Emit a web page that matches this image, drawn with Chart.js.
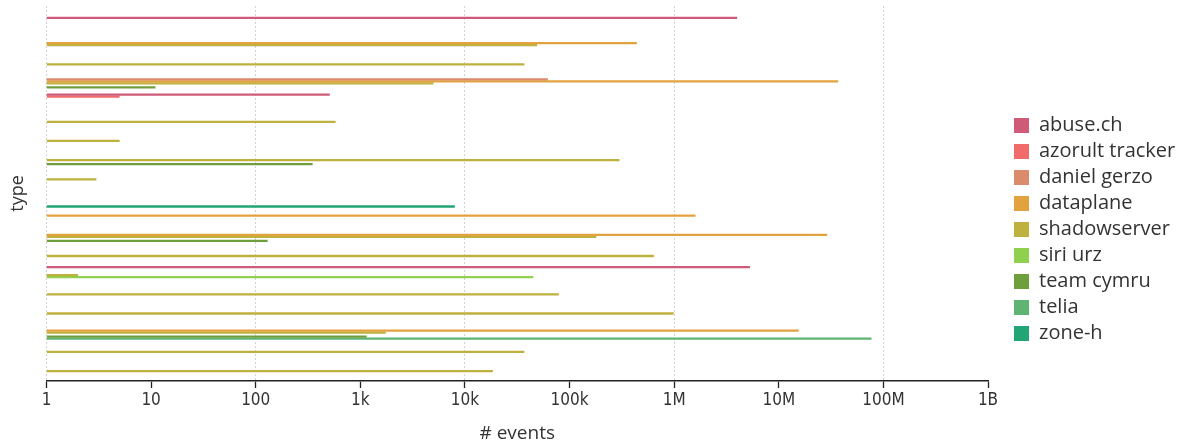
<!DOCTYPE html>
<html>
<head>
<meta charset="utf-8">
<script src="https://cdn.jsdelivr.net/npm/chart.js@4"></script>
<style>
  html, body { margin: 0; padding: 0; background: #fff; }
  #wrap { width: 1180px; height: 445px; position: relative; }
</style>
</head>
<body>
<div id="wrap"><canvas id="c"></canvas></div>
<script>
// ---- data ----
const categories = ['type 01','type 02','type 03','type 04','type 05','type 06','type 07','type 08','type 09','type 10',
                    'type 11','type 12','type 13','type 14','type 15','type 16','type 17','type 18','type 19'];
const sources = ['abuse.ch','azorult tracker','daniel gerzo','dataplane','shadowserver','siri urz','team cymru','telia','zone-h'];

const abuseCh        = [4.0e6, null, null, null, 510, null, null, null, null, null, null, null, null, 5.3e6, null, null, null, null, null];
const azorultTracker = [null, null, null, null, 5, null, null, null, null, null, null, null, null, null, null, null, null, null, null];
const danielGerzo    = [null, null, null, 62000, null, null, null, null, null, null, null, null, null, null, null, null, null, null, null];
const dataplane      = [null, 440000, null, 3.7e7, null, null, null, null, null, null, 1.6e6, 2.9e7, null, null, null, null, 1.55e7, null, null];
const shadowserver   = [null, 49000, 37000, 5000, null, 580, 5, 300000, 3, null, null, 180000, 640000, 2, 79000, 990000, 1750, 37000, 18500];
const siriUrz        = [null, null, null, null, null, null, null, null, null, null, null, null, null, 45000, null, null, null, null, null];
const teamCymru      = [null, null, null, 11, null, null, null, 350, null, null, null, 130, null, null, null, null, 1150, null, null];
const telia          = [null, null, null, null, null, null, null, null, null, null, null, null, null, null, null, null, 7.7e7, null, null];
const zoneH          = [null, null, null, null, null, null, null, null, null, 8000, null, null, null, null, null, null, null, null, null];

const seriesValues = [abuseCh, azorultTracker, danielGerzo, dataplane, shadowserver, siriUrz, teamCymru, telia, zoneH];

const tickValues = [1, 10, 100, 1e3, 1e4, 1e5, 1e6, 1e7, 1e8, 1e9];
const tickLabels = ['1', '10', '100', '1k', '10k', '100k', '1M', '10M', '100M', '1B'];

// ---- styles ----
const colors = ['#cf5b78', '#f26b6b', '#d98b6b', '#e2a33e', '#bfb13e', '#8fd14f', '#6f9f3c', '#5fb474', '#22a574'];

const datasets = sources.map((name, k) => ({
  label: name,
  data: seriesValues[k].map((v, i) => ({ x: v, y: i })).filter(p => p.x !== null),
  backgroundColor: colors[k],
  borderWidth: 0,
  categoryPercentage: 0.94,
  barPercentage: 1.15
}));

const legendPlace = {
  id: 'legendPlace',
  beforeInit(chart) {
    const l = chart.legend;
    const fit = l.fit;
    l.fit = function () { fit.call(this); this.width = 192; };
  },
  afterLayout(chart) {
    const l = chart.legend;
    l.left = 1008; l.right = 1180;
    l.top += 4; l.bottom += 4;
  }
};

new Chart(document.getElementById('c'), {
  type: 'bar',
  data: { datasets },
  plugins: [legendPlace],
  options: {
    indexAxis: 'y',
    responsive: true,
    maintainAspectRatio: false,
    animation: false,
    layout: { padding: { top: 6, left: 0, right: 0, bottom: 0 } },
    plugins: {
      tooltip: { enabled: false },
      legend: {
        position: 'right',
        align: 'center',
        labels: {
          boxWidth: 15, boxHeight: 15, padding: 6, color: '#333',
          font: { family: "'Open Sans', sans-serif", size: 20 }
        }
      }
    },
    scales: {
      x: {
        type: 'logarithmic',
        min: 1, max: 1e9,
        afterBuildTicks: s => { s.ticks = tickValues.map(v => ({ value: v })); },
        ticks: {
          callback: (v, i) => tickLabels[i],
          color: '#333', padding: 2, autoSkip: false, maxRotation: 0,
          font: { family: "'DejaVu Sans Condensed', 'Liberation Sans Narrow', sans-serif", size: 17 }
        },
        grid: {
          color: c => (c.index % 2 === 0 ? '#d2d2d2' : 'rgba(0,0,0,0)'),
          lineWidth: 1, tickColor: '#222', tickWidth: 1.3, tickLength: 7, tickBorderDash: []
        },
        border: { display: true, color: '#222', width: 1.6, dash: [2, 2] },
        title: {
          display: true, text: '# events', color: '#333',
          font: { family: "'Open Sans', sans-serif", size: 19 },
          padding: { top: 9.8, bottom: 0 }
        }
      },
      y: {
        type: 'linear',
        reverse: true,
        min: -1.04, max: 18.52,
        offset: false,
        afterBuildTicks: s => { s.ticks = categories.map((_, i) => ({ value: i })); },
        ticks: { display: false },
        grid: { display: false, drawTicks: false },
        border: { display: false },
        title: {
          display: true, text: 'type', color: '#333',
          font: { family: "'Open Sans', sans-serif", size: 18 },
          padding: { top: 7.5, bottom: 17.4 }
        }
      }
    }
  }
});
</script>
</body>
</html>
